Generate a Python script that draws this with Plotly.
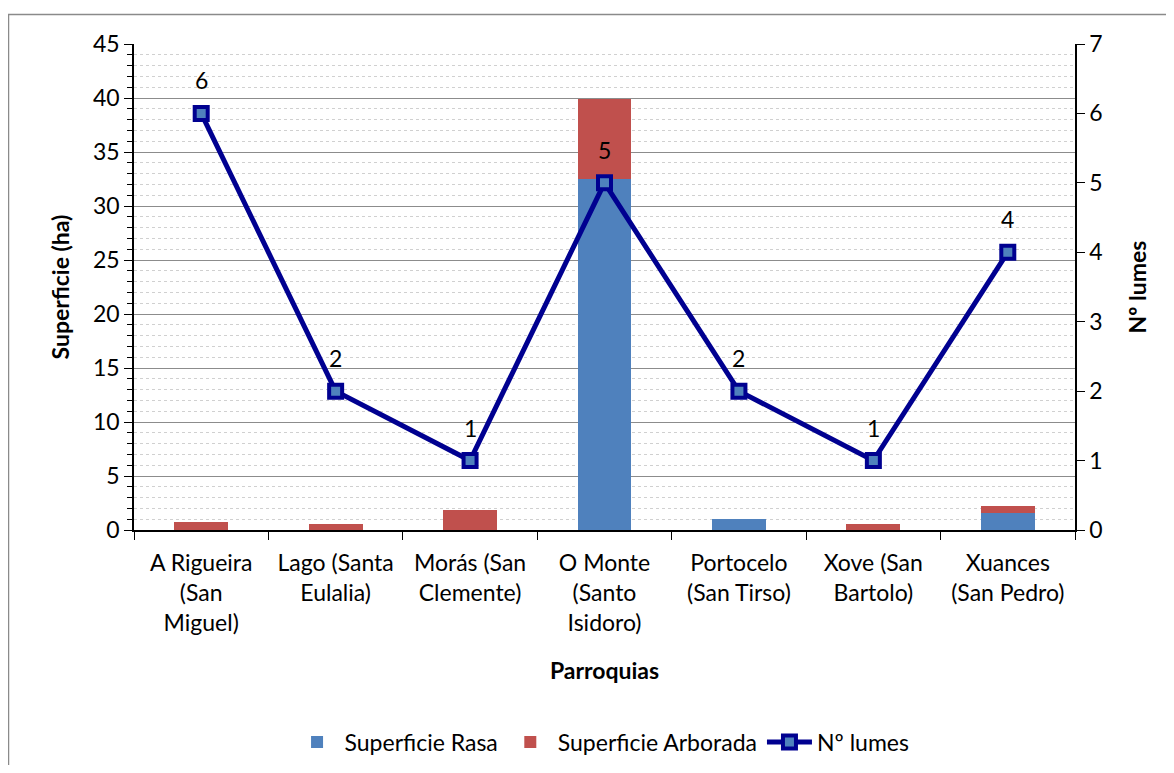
import plotly.graph_objects as go

categories = [
    "A Rigueira<br>(San<br>Miguel)",
    "Lago (Santa<br>Eulalia)",
    "Morás (San<br>Clemente)",
    "O Monte<br>(Santo<br>Isidoro)",
    "Portocelo<br>(San Tirso)",
    "Xove (San<br>Bartolo)",
    "Xuances<br>(San Pedro)",
]
sup_rasa = [0, 0, 0, 32.5, 1.05, 0, 1.55]
sup_arborada = [0.75, 0.6, 1.85, 7.4, 0, 0.6, 0.7]
lumes = [6, 2, 1, 5, 2, 1, 4]

FONT = "Lato"
FS = 23
W, H = 1158, 757
L, R, T, B = 126, 1067, 36, 522
pw, ph = R - L, B - T

fig = go.Figure()
fig.add_trace(go.Bar(x=categories, y=sup_rasa, name="Superficie Rasa",
                     marker=dict(color="#4F81BD", line=dict(width=0)), width=0.4))
fig.add_trace(go.Bar(x=categories, y=sup_arborada, name="Superficie Arborada",
                     marker=dict(color="#C0504D", line=dict(width=0)), width=0.4))
fig.add_trace(go.Scatter(x=categories, y=lumes, name="Nº lumes", yaxis="y2",
                         mode="lines+markers",
                         line=dict(color="#000090", width=5),
                         marker=dict(symbol="square", size=13, color="#4F81BD",
                                     line=dict(color="#000090", width=4))))

annotations = [dict(x=c, y=v, xref="x", yref="y2", text=str(v), showarrow=False,
                    yshift=33, font=dict(size=FS, color="black", family=FONT))
               for c, v in zip(categories, lumes)]

fig.update_layout(
    width=W, height=H,
    margin=dict(l=L, r=W - R, t=T, b=H - B, pad=0, autoexpand=False),
    paper_bgcolor="white", plot_bgcolor="white",
    barmode="stack",
    font=dict(family=FONT, size=FS, color="black"),
    showlegend=True,
    legend=dict(orientation="h", xref="container", yref="container",
                x=0.513, xanchor="center", y=1 - 734 / H, yanchor="middle",
                font=dict(size=FS), traceorder="normal", itemwidth=45),
    xaxis=dict(
        showline=True, linecolor="black", linewidth=1.5,
        ticks="outside", ticklen=8, tickcolor="black", tickson="boundaries",
        ticklabelstandoff=12,
        title=dict(text="<b>Parroquias</b>", standoff=28, font=dict(size=FS)),
        tickfont=dict(size=FS), showgrid=False, tickangle=0,
    ),
    yaxis=dict(
        range=[0, 45], dtick=5, showline=True, linecolor="black", linewidth=1.5,
        ticks="outside", ticklen=8, tickcolor="black",
        showgrid=True, gridcolor="#8c8c8c", gridwidth=1,
        minor=dict(dtick=1, ticks="outside", ticklen=5, tickcolor="black",
                   showgrid=True, gridcolor="#d0d0d0", griddash="dot", gridwidth=1),
        title=dict(text="<b>Superficie (ha)</b>", standoff=17, font=dict(size=FS)),
        tickfont=dict(size=FS), zeroline=False,
    ),
    yaxis2=dict(
        range=[0, 7], dtick=1, overlaying="y", side="right",
        showline=True, linecolor="black", linewidth=1.5,
        ticks="outside", ticklen=8, tickcolor="black", showgrid=False,
        title=dict(text="<b>Nº lumes</b>", standoff=28, font=dict(size=FS)),
        tickfont=dict(size=FS), zeroline=False,
    ),
    annotations=annotations,
    shapes=[dict(type="rect", xref="paper", yref="paper",
                 x0=(0.5 - L) / pw, x1=(1175 - L) / pw,
                 y0=(B - 790) / ph, y1=(B - 6.5) / ph,
                 line=dict(color="#8a8a8a", width=1.5), fillcolor="rgba(0,0,0,0)",
                 layer="below")],
)

fig.write_html("out.html")
